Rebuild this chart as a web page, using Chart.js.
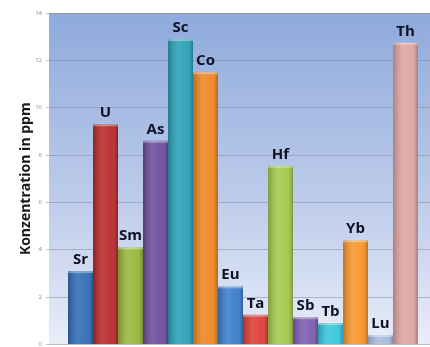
<!DOCTYPE html>
<html>
<head>
<meta charset="utf-8">
<script src="https://cdn.jsdelivr.net/npm/chart.js@4/dist/chart.umd.min.js"></script>
<style>
  html, body { margin: 0; padding: 0; background: #fff; overflow: hidden; }
  #wrap { width: 430px; height: 347px; overflow: hidden; }
</style>
</head>
<body>
<div id="wrap"><canvas id="myChart" width="437" height="352"></canvas></div>
<script>
// Elemente und Konzentrationen (ppm)
const elements = ['Sr', 'U', 'Sm', 'As', 'Sc', 'Co', 'Eu', 'Ta', 'Hf', 'Sb', 'Tb', 'Yb', 'Lu', 'Th'];
const values = [3.1, 9.3, 4.1, 8.6, 12.9, 11.5, 2.45, 1.25, 7.55, 1.15, 0.9, 4.4, 0.4, 12.75];
const colors = ['#2f6db5', '#b8292b', '#97b83c', '#6b4c9a', '#2a9fb6', '#ee8520',
                '#3a7ccc', '#e03c36', '#a3c94a', '#7d5bb0', '#36c6dc', '#f7952b',
                '#a8bde2', '#dfa3a3'];
const yMin = 0, yMax = 14, yStep = 2;

// Hintergrund-Verlauf im Diagrammbereich
const bgPlugin = {
    id: 'bg',
    beforeDraw(chart) {
        const { ctx, chartArea: a } = chart;
        const g = ctx.createLinearGradient(0, a.top, 0, a.bottom);
        g.addColorStop(0, '#8eaadc');
        g.addColorStop(0.55, '#bccbea');
        g.addColorStop(1, '#e8edf8');
        ctx.save();
        ctx.fillStyle = g;
        ctx.fillRect(a.left, a.top, a.right - a.left, a.bottom - a.top);
        ctx.restore();
    }
};

// Schattierung der Balken + Beschriftung oben
const barPlugin = {
    id: 'barLook',
    afterDatasetsDraw(chart) {
        const ctx = chart.ctx;
        ctx.save();
        chart.data.datasets.forEach((ds, i) => {
            const bar = chart.getDatasetMeta(i).data[0];
            const w = bar.width, l = bar.x - w / 2;
            const g = ctx.createLinearGradient(l, 0, l + w, 0);
            g.addColorStop(0, 'rgba(0,0,0,0.22)');
            g.addColorStop(0.4, 'rgba(255,255,255,0.12)');
            g.addColorStop(0.75, 'rgba(255,255,255,0.05)');
            g.addColorStop(1, 'rgba(0,0,0,0.25)');
            ctx.fillStyle = g;
            ctx.fillRect(l, bar.y, w, bar.base - bar.y);
            ctx.fillStyle = 'rgba(255,255,255,0.35)';
            ctx.fillRect(l, bar.y, w, 2);

            ctx.fillStyle = '#0e1124';
            ctx.font = 'bold 15px "Open Sans", sans-serif';
            ctx.textAlign = 'center';
            ctx.textBaseline = 'alphabetic';
            ctx.fillText(ds.label, bar.x, bar.y - 7);
        });
        ctx.restore();
    }
};

const ctx = document.getElementById('myChart').getContext('2d');
const myChart = new Chart(ctx, {
    type: 'bar',
    data: {
        labels: [''],
        datasets: elements.map((el, i) => ({
            label: el,
            data: [values[i]],
            backgroundColor: colors[i],
            borderWidth: 0
        }))
    },
    options: {
        responsive: false,
        animation: false,
        layout: { padding: { top: 13, bottom: 0, left: 0, right: 0 } },
        datasets: { bar: { categoryPercentage: 0.902, barPercentage: 1 } },
        plugins: { legend: { display: false }, tooltip: { enabled: false } },
        scales: {
            x: { display: false },
            y: {
                min: yMin,
                max: yMax,
                afterFit(s) { s.width = 49; },
                ticks: {
                    stepSize: yStep,
                    color: '#8a8a8a',
                    font: { size: 6, family: 'Open Sans' },
                    padding: 4
                },
                grid: { color: 'rgba(125,135,155,0.5)', tickLength: 3 },
                border: { display: false },
                title: {
                    display: true,
                    text: 'Konzentration in ppm',
                    color: '#1a1a1a',
                    font: { size: 14, weight: 'bold', family: 'Open Sans' },
                    padding: { top: 18, bottom: 0 }
                }
            }
        }
    },
    plugins: [bgPlugin, barPlugin]
});
</script>
</body>
</html>
